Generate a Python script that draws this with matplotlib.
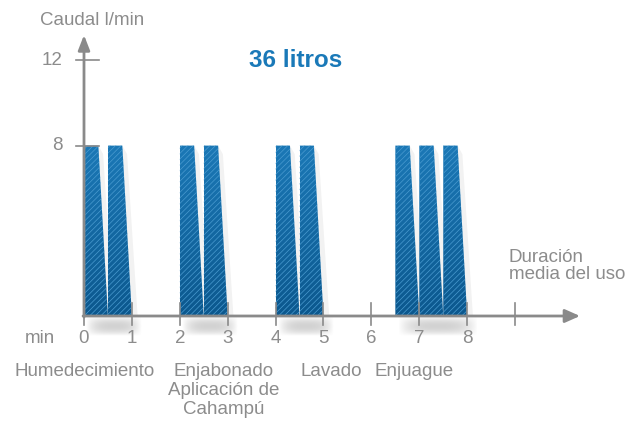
import numpy as np
import matplotlib
matplotlib.use('Agg')
import matplotlib.pyplot as plt
from matplotlib.patches import Polygon

# data
bar_starts = [0, 0.5, 2, 2.5, 4, 4.5, 6.5, 7, 7.5]
flow = 8
top_w = 0.3
bottom_w = 0.5
groups = [(0, 1), (2, 3), (4, 5), (6.5, 8)]
x_ticks = list(range(10))
x_labels = [str(i) for i in range(9)]
y_ticks = [8, 12]
phases = ["Humedecimiento", "Enjabonado", "Lavado", "Enjuague"]
phase_x = [0.02, 2.92, 5.16, 6.89]
total_text = "36 litros"

GRAY = "#8c8c8c"
AXIS = "#8a8a8a"
BLUE_TOP = np.array([0x1b, 0x78, 0xb6]) / 255
BLUE_BOT = np.array([0x0c, 0x58, 0x8e]) / 255
HATCH = "#4a9bd0"
TITLE = "#1a79b8"

plt.rcParams['font.family'] = ['Liberation Sans', 'DejaVu Sans']
plt.rcParams['hatch.linewidth'] = 0.5

fig = plt.figure(figsize=(6.34, 4.21), dpi=100)
ax = fig.add_axes([0, 0, 1, 1])
ax.set_xlim(-84 / 47.9, (634 - 84) / 47.9)
ax.set_ylim(-(421 - 316) / 21.3, 316 / 21.3)
ax.axis('off')

# soft shadows under the axis
ny, nx = 40, 80
yy = np.linspace(-1, 1, ny)[:, None]
xx = np.linspace(-1, 1, nx)[None, :]
soft = np.clip(1 - np.abs(xx) ** 3, 0, 1) * np.clip(1 - np.abs(yy) ** 2, 0, 1)
shadow = np.zeros((ny, nx, 4))
shadow[..., :3] = 0.5
shadow[..., 3] = 0.35 * soft
for g0, g1 in groups:
    ax.imshow(shadow, extent=[g0 + 0.05, g1 + 0.2, -0.95, -0.05],
              aspect='auto', zorder=1, interpolation='bilinear')

# gradient for bars
grad = np.linspace(0, 1, 100)[:, None]
grad_img = np.zeros((100, 2, 3))
for c in range(3):
    grad_img[..., c] = (BLUE_TOP[c] * grad + BLUE_BOT[c] * (1 - grad))[:, :1]

for x0 in bar_starts:
    pts = [(x0, 0), (x0, flow), (x0 + top_w, flow), (x0 + bottom_w, 0)]
    # shadow to the right
    sh = Polygon([(x0 + top_w, flow), (x0 + top_w + 0.1, flow - 0.4),
                  (x0 + bottom_w + 0.12, 0), (x0 + bottom_w, 0)],
                 closed=True, facecolor="#000000", alpha=0.05, lw=0, zorder=2)
    ax.add_patch(sh)
    poly = Polygon(pts, closed=True, facecolor='none', lw=0, zorder=3)
    ax.add_patch(poly)
    im = ax.imshow(grad_img, extent=[x0, x0 + bottom_w, 0, flow],
                   origin='lower', aspect='auto', zorder=3)
    im.set_clip_path(poly)
    ax.add_patch(Polygon(pts, closed=True, facecolor='none', edgecolor=HATCH,
                         hatch='//////', lw=0, zorder=4))

# axes with arrows
x_end = (580 - 84) / 47.9
y_end = (316 - 35) / 21.3
ax.annotate('', xy=(x_end, 0), xytext=(-0.02, 0),
            arrowprops=dict(arrowstyle='-|>,head_length=0.9,head_width=0.4',
                            color=AXIS, lw=2, shrinkA=0, shrinkB=0), zorder=5)
ax.annotate('', xy=(0, y_end), xytext=(0, -0.05),
            arrowprops=dict(arrowstyle='-|>,head_length=0.9,head_width=0.35',
                            color=AXIS, lw=2, shrinkA=0, shrinkB=0), zorder=5)

for t in x_ticks:
    ax.plot([t, t], [-0.42, 0.6], color=AXIS, lw=1.2, zorder=5)
for t in y_ticks:
    ax.plot([-0.17, 0.31], [t, t], color=AXIS, lw=1.2, zorder=5)

# tick labels
for t, lab in zip(x_ticks, x_labels):
    ax.text(t, -1.07, lab, color=GRAY, fontsize=13.5, ha='center', va='center')
ax.text(-0.6, -1.07, "min", color=GRAY, fontsize=13.5, ha='right', va='center')
for t in y_ticks:
    ax.text(-0.44, t, str(t), color=GRAY, fontsize=13.5, ha='right', va='center')

ax.text(-0.92, 13.85, "Caudal l/min", color=GRAY, fontsize=13.5,
        ha='left', va='center')
ax.text(8.87, 2.33, "Duración\nmedia del uso", color=GRAY, fontsize=13.5,
        ha='left', va='center', linespacing=1.0)
ax.text(4.41, 12.0, total_text, color=TITLE, fontsize=17.5, fontweight='bold',
        ha='center', va='center')

for name, px in zip(phases, phase_x):
    ax.text(px, -2.62, name, color=GRAY, fontsize=13.5, ha='center', va='center')
ax.text(2.92, -3.51, "Aplicación de", color=GRAY, fontsize=13.5,
        ha='center', va='center')
ax.text(2.92, -4.4, "Cahampú", color=GRAY, fontsize=13.5,
        ha='center', va='center')

plt.savefig("out.png", dpi=100)
plt.close()
